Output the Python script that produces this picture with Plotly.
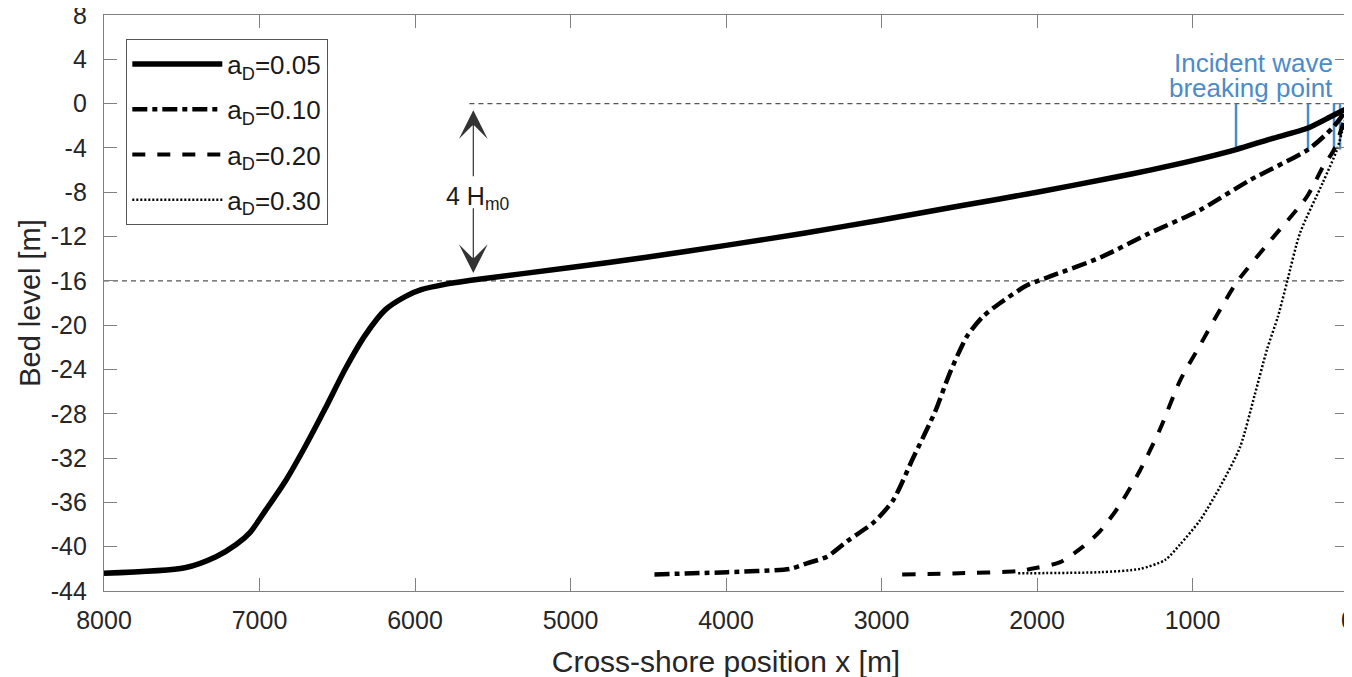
import plotly.graph_objects as go

# ---- data ----
x_005 = [8000, 7480, 7280, 7150, 7060, 6960, 6830, 6700, 6580, 6450, 6320, 6190, 6060, 5960, 5800, 5640,
         5000, 4500, 4000, 3500, 3000, 2500, 2000, 1500, 1273, 1000, 720, 500, 257, 100, 0]
y_005 = [-42.4, -41.9, -40.9, -39.8, -38.7, -36.7, -34.0, -30.8, -27.6, -24.0, -20.9, -18.6, -17.4, -16.8, -16.3, -15.95,
         -14.8, -13.85, -12.8, -11.7, -10.5, -9.25, -8.0, -6.65, -6.0, -5.15, -4.15, -3.2, -2.2, -1.1, -0.4]

x_010 = [4460, 3990, 3590, 3480, 3350, 3220, 3050, 2925, 2797, 2655, 2560, 2450, 2346, 2237, 2064, 1916,
         1594, 1292, 951, 630, 257, 100, 0]
y_010 = [-42.5, -42.3, -42.0, -41.5, -40.9, -39.5, -37.8, -35.8, -32.0, -27.8, -24.3, -21.0, -19.2, -18.0, -16.4, -15.6,
         -13.9, -11.8, -9.6, -6.9, -4.15, -2.2, -0.4]

x_020 = [2867, 2500, 2121, 2000, 1851, 1704, 1594, 1466, 1337, 1209, 1080, 951, 823, 714, 501, 264, 161, 90, 0]
y_020 = [-42.5, -42.4, -42.2, -41.9, -41.4, -40.0, -38.6, -36.2, -33.1, -29.4, -25.0, -21.8, -18.6, -16.1, -12.4,
         -8.4, -5.7, -4.15, -0.4]

x_030 = [2121, 1594, 1337, 1176, 1080, 951, 823, 694, 600, 521, 450, 392, 309, 161, 71, 0]
y_030 = [-42.4, -42.3, -42.0, -41.2, -39.8, -37.6, -34.6, -31.0, -26.3, -22.2, -19.2, -16.1, -11.7, -7.1, -4.15, -0.4]

series_names = ["a<sub>D</sub>=0.05", "a<sub>D</sub>=0.10", "a<sub>D</sub>=0.20", "a<sub>D</sub>=0.30"]

# breaking points (x) and breaking depth
break_x = [720, 257, 90, 51]
break_depth = -4.15

# reference levels
ref_zero_x = [5650, 0]
ref_zero_y = [0, 0]
ref_deep_x = [8000, 0]
ref_deep_y = [-16, -16]

x_ticks = [0, 1000, 2000, 3000, 4000, 5000, 6000, 7000, 8000]
y_ticks = list(range(-44, 9, 4))
y_ticktext = [str(v) for v in y_ticks]   # plain hyphen minus, as in the reference

# ---- figure ----
FONT = "Liberation Sans, Arial, Helvetica, sans-serif"
AXC = "#808080"
TXT = "#262626"
BLUE = "#4b8bc8"

fig = go.Figure()

# reference dashed lines
fig.add_trace(go.Scatter(x=ref_zero_x, y=ref_zero_y, mode="lines", showlegend=False,
                         line=dict(color="#555555", width=1.2, dash="5px,4px"), hoverinfo="skip"))
fig.add_trace(go.Scatter(x=ref_deep_x, y=ref_deep_y, mode="lines", showlegend=False,
                         line=dict(color="#555555", width=1.2, dash="5px,4px"), hoverinfo="skip"))

# breaking point markers
bx, by = [], []
for xb in break_x:
    bx += [xb, xb, None]
    by += [0, break_depth, None]
fig.add_trace(go.Scatter(x=bx, y=by, mode="lines", showlegend=False,
                         line=dict(color=BLUE, width=2.5), hoverinfo="skip"))

styles = [
    dict(width=5.5, dash="solid"),
    dict(width=4.5, dash="15px,5px,5px,5px"),
    dict(width=4, dash="13px,12px"),
    dict(width=2.5, dash="2px,2px"),
]
for i, (xs, ys) in enumerate([(x_005, y_005), (x_010, y_010), (x_020, y_020), (x_030, y_030)]):
    fig.add_trace(go.Scatter(x=xs, y=ys, mode="lines", name=series_names[i], legendgroup=f"g{i}",
                             line=dict(color="black", width=styles[i]["width"], dash=styles[i]["dash"],
                                       shape="spline", smoothing=0.7),
                             cliponaxis=False))

# 4 Hm0 arrows
fig.add_annotation(x=5625, y=-0.6, ax=5625, ay=-6.7, xref="x", yref="y", axref="x", ayref="y",
                   showarrow=True, arrowhead=3, arrowsize=4, arrowwidth=1.2, arrowcolor="#333333", text="")
fig.add_annotation(x=5625, y=-15.3, ax=5625, ay=-9.3, xref="x", yref="y", axref="x", ayref="y",
                   showarrow=True, arrowhead=3, arrowsize=4, arrowwidth=1.2, arrowcolor="#333333", text="")
fig.add_annotation(x=5596, y=-8.5, xref="x", yref="y", showarrow=False, text="4 H<sub>m0</sub>",
                   font=dict(family=FONT, size=25, color="#1a1a1a"), xanchor="center", yanchor="middle")

# incident wave breaking point label (two lines, tight spacing)
fig.add_annotation(x=82, y=3.65, xref="x", yref="y", showarrow=False, text="Incident wave",
                   xanchor="right", yanchor="middle", font=dict(family=FONT, size=26, color=BLUE))
fig.add_annotation(x=82, y=1.45, xref="x", yref="y", showarrow=False, text="breaking point",
                   xanchor="right", yanchor="middle", font=dict(family=FONT, size=26, color=BLUE))

# the page body has an 8px margin, so offsets are compensated in the figure margins
fig.update_layout(
    width=1352, height=677,
    margin=dict(l=96, r=12, t=7, b=94, autoexpand=False),
    paper_bgcolor="white", plot_bgcolor="white",
    font=dict(family=FONT, size=25, color=TXT),
    legend=dict(x=0.0177, y=0.958, xanchor="left", yanchor="top",
                bgcolor="white", bordercolor="#555555", borderwidth=1.3,
                font=dict(family=FONT, size=26, color="#1a1a1a"),
                tracegroupgap=8.5, itemwidth=90),
    xaxis=dict(range=[8000, 0], tickvals=x_ticks, ticks="inside", ticklen=13, tickcolor=AXC, tickwidth=1.2,
               showline=True, linecolor=AXC, linewidth=1.3, mirror="ticks", showgrid=False, zeroline=False,
               automargin=False, ticklabeloverflow="allow",
               tickfont=dict(family=FONT, size=25, color=TXT), ticklabelstandoff=7,
               title=dict(text="Cross-shore position x [m]", font=dict(family=FONT, size=30, color=TXT), standoff=17)),
    yaxis=dict(range=[-44, 8], tickvals=y_ticks, ticktext=y_ticktext, ticks="inside", ticklen=13, tickcolor=AXC,
               tickwidth=1.2, showline=True, linecolor=AXC, linewidth=1.3, mirror="ticks", showgrid=False,
               zeroline=False, automargin=False, ticklabeloverflow="allow",
               tickfont=dict(family=FONT, size=25, color=TXT), ticklabelstandoff=11,
               title=dict(text="Bed level [m]", font=dict(family=FONT, size=29, color=TXT), standoff=1)),
)

fig.write_html("out.html")
